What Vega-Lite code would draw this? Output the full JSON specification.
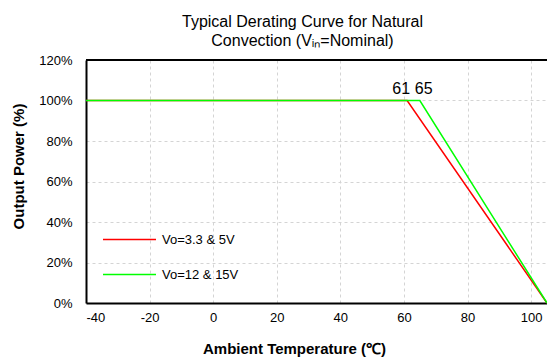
{
  "$schema": "https://vega.github.io/schema/vega-lite/v6.json",
  "width": 461,
  "height": 243,
  "autosize": {"type": "none"},
  "padding": {"left": 86, "top": 60, "right": 0, "bottom": 55},
  "background": "white",
  "view": {"stroke": null},
  "title": {
    "text": ["Typical Derating Curve for Natural", "Convection (Vᵢₙ=Nominal)"],
    "font": "Liberation Sans",
    "fontSize": 16,
    "fontWeight": "normal",
    "color": "black",
    "lineHeight": 19,
    "anchor": "middle",
    "dx": -14,
    "offset": 5
  },
  "config": {
    "font": "Liberation Sans",
    "axis": {
      "labelFont": "Liberation Sans",
      "labelFontSize": 13,
      "labelColor": "black",
      "titleFont": "Liberation Sans",
      "titleFontSize": 15,
      "titleFontWeight": "bold",
      "titleColor": "black",
      "grid": true,
      "gridColor": "#d4d4d4",
      "gridDash": [3, 3],
      "gridWidth": 1,
      "ticks": false,
      "domainColor": "black",
      "domainWidth": 2
    },
    "legend": {
      "labelFont": "Liberation Sans",
      "labelFontSize": 13,
      "labelColor": "black"
    }
  },
  "datasets": {
    "curves": [
      {"temp": -40, "power": 100, "series": "Vo=3.3 & 5V"},
      {"temp": 61, "power": 100, "series": "Vo=3.3 & 5V"},
      {"temp": 105, "power": 0, "series": "Vo=3.3 & 5V"},
      {"temp": -40, "power": 100, "series": "Vo=12 & 15V"},
      {"temp": 65, "power": 100, "series": "Vo=12 & 15V"},
      {"temp": 105, "power": 0, "series": "Vo=12 & 15V"}
    ],
    "knees": [
      {"temp": 61, "power": 100, "label": "61"},
      {"temp": 65, "power": 100, "label": "65"}
    ],
    "frame": [
      {"power": 120}
    ]
  },
  "layer": [
    {
      "data": {"name": "frame"},
      "mark": {"type": "rule", "color": "black", "strokeWidth": 2},
      "encoding": {
        "y": {"field": "power", "type": "quantitative", "scale": {"domain": [0, 120], "nice": false}}
      }
    },
    {
      "data": {"name": "curves"},
      "mark": {"type": "line", "strokeWidth": 1.5},
      "encoding": {
        "x": {
          "field": "temp",
          "type": "quantitative",
          "scale": {"domain": [-40, 105], "nice": false, "zero": false},
          "axis": {
            "title": "Ambient Temperature (℃)",
            "values": [-40, -20, 0, 20, 40, 60, 80, 100],
            "labelExpr": "'' + datum.value",
            "labelPadding": 8,
            "titleX": 208,
            "titleY": 50,
            "titleBaseline": "alphabetic"
          }
        },
        "y": {
          "field": "power",
          "type": "quantitative",
          "scale": {"domain": [0, 120], "nice": false},
          "axis": {
            "title": "Output Power (%)",
            "values": [0, 20, 40, 60, 80, 100, 120],
            "labelExpr": "datum.value + '%'",
            "labelPadding": 14,
            "titleX": -63,
            "titleY": 106,
            "titleAngle": 270,
            "titleBaseline": "alphabetic"
          }
        },
        "color": {
          "field": "series",
          "type": "nominal",
          "sort": ["Vo=3.3 & 5V", "Vo=12 & 15V"],
          "scale": {"domain": ["Vo=3.3 & 5V", "Vo=12 & 15V"], "range": ["#ff0000", "#00ff00"]},
          "legend": {
            "title": null,
            "orient": "none",
            "legendX": 16,
            "legendY": 152,
            "padding": 0,
            "symbolType": "stroke",
            "symbolSize": 2809,
            "symbolStrokeWidth": 1.5,
            "labelOffset": 5,
            "rowPadding": 0
          }
        }
      }
    },
    {
      "data": {"name": "knees"},
      "transform": [{"filter": "datum.label == '61'"}],
      "mark": {"type": "text", "align": "right", "baseline": "alphabetic", "dx": 3, "dy": -7, "fontSize": 16, "font": "Liberation Sans", "color": "black"},
      "encoding": {
        "x": {"field": "temp", "type": "quantitative"},
        "y": {"field": "power", "type": "quantitative"},
        "text": {"field": "label"}
      }
    },
    {
      "data": {"name": "knees"},
      "transform": [{"filter": "datum.label == '65'"}],
      "mark": {"type": "text", "align": "left", "baseline": "alphabetic", "dx": -5, "dy": -7, "fontSize": 16, "font": "Liberation Sans", "color": "black"},
      "encoding": {
        "x": {"field": "temp", "type": "quantitative"},
        "y": {"field": "power", "type": "quantitative"},
        "text": {"field": "label"}
      }
    }
  ]
}
